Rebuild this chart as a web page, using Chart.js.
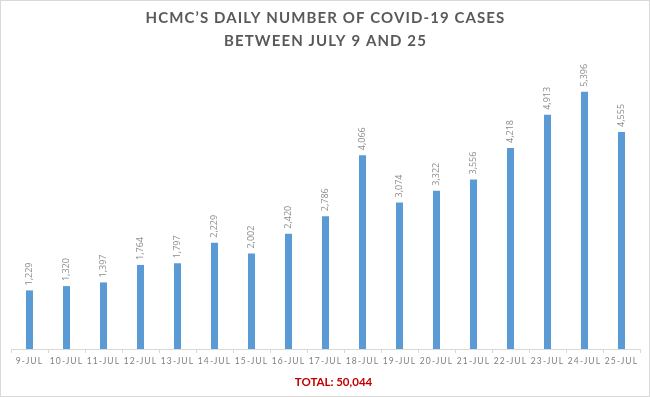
<!DOCTYPE html>
<html>
<head>
<meta charset="utf-8">
<script src="https://cdn.jsdelivr.net/npm/chart.js@4/dist/chart.umd.min.js"></script>
<style>
  html, body { margin: 0; padding: 0; background: #fff; }
  #wrap { width: 650px; height: 397px; box-sizing: border-box; border: 1px solid #d9d9d9; }
</style>
</head>
<body>
<div id="wrap"><canvas id="casesChart" width="648" height="395"></canvas></div>
<script>
// Data
const days = ['9-JUL', '10-JUL', '11-JUL', '12-JUL', '13-JUL', '14-JUL', '15-JUL', '16-JUL', '17-JUL',
    '18-JUL', '19-JUL', '20-JUL', '21-JUL', '22-JUL', '23-JUL', '24-JUL', '25-JUL'];
const dailyCases = [1229, 1320, 1397, 1764, 1797, 2229, 2002, 2420, 2786,
    4066, 3074, 3322, 3556, 4218, 4913, 5396, 4555];
const titleLines = ['HCMC\u2019S DAILY NUMBER OF COVID-19 CASES', 'BETWEEN JULY 9 AND 25'];
const totalText = 'TOTAL: 50,044';

// letter spacing for title and axis labels, none for the total line
const spacingPlugin = {
    id: 'spacing',
    beforeDraw(chart) {
        chart.ctx.letterSpacing = '1.1px';
    },
    afterLayout(chart) {
        const sub = chart.boxes.find(b => b.options && b.options.text === totalText);
        if (sub && !sub._wrapped) {
            const draw = sub.draw.bind(sub);
            sub.draw = function () {
                const c = chart.ctx;
                c.save();
                c.letterSpacing = '0px';
                c.translate(8, 0);  // the total sits a bit right of centre
                draw();
                c.restore();
            };
            sub._wrapped = true;
        }
    }
};

// rotated value labels above each bar
const valueLabels = {
    id: 'valueLabels',
    afterDatasetsDraw(chart) {
        const ctx = chart.ctx;
        const meta = chart.getDatasetMeta(0);
        ctx.save();
        ctx.letterSpacing = '0px';
        ctx.font = '9px "Open Sans", sans-serif';
        ctx.fillStyle = '#8c8c8c';
        ctx.textAlign = 'left';
        ctx.textBaseline = 'middle';
        meta.data.forEach((bar, i) => {
            ctx.save();
            ctx.translate(bar.x, bar.y - 5);
            ctx.rotate(-Math.PI / 2);
            ctx.fillText(dailyCases[i].toLocaleString('en-US'), 0, 0);
            ctx.restore();
        });
        ctx.restore();
    }
};

const ctx = document.getElementById('casesChart').getContext('2d');
window.myChart = new Chart(ctx, {
    type: 'bar',
    data: {
        labels: days,
        datasets: [{
            data: dailyCases,
            backgroundColor: '#5b9bd5',
            barPercentage: 0.38,
            categoryPercentage: 0.5
        }]
    },
    options: {
        responsive: false,
        animation: false,
        layout: {
            padding: { left: 10, right: 9, top: 0, bottom: 4 }
        },
        scales: {
            x: {
                grid: { display: true, drawOnChartArea: false, offset: true, tickLength: 4, color: '#d9d9d9' },
                border: { color: '#d9d9d9' },
                ticks: {
                    autoSkip: false,
                    maxRotation: 0,
                    padding: 3,
                    color: '#7f7f7f',
                    font: { family: 'Lato, sans-serif', size: 8.5 }
                }
            },
            y: {
                display: false,
                min: 0,
                max: 6000
            }
        },
        plugins: {
            legend: { display: false },
            tooltip: { enabled: false },
            title: {
                display: true,
                text: titleLines,
                color: '#595959',
                font: { family: 'Lato, sans-serif', size: 15, weight: 'bold', lineHeight: 1.5 },
                padding: { top: 6, bottom: 11 }
            },
            subtitle: {
                display: true,
                position: 'bottom',
                text: totalText,
                color: '#c00000',
                font: { family: 'Lato, sans-serif', size: 11.5, weight: 'bold' },
                padding: { top: 6, bottom: 3 }
            }
        }
    },
    plugins: [spacingPlugin, valueLabels]
});
</script>
</body>
</html>
